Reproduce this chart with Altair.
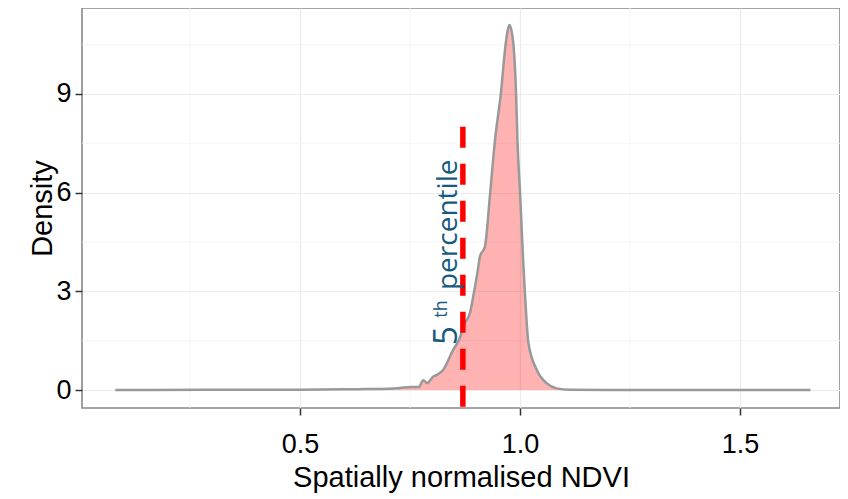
import altair as alt
import pandas as pd

# ---- data ----
ndvi = [0.08, 0.30, 0.50, 0.60, 0.65, 0.70, 0.727, 0.75, 0.77, 0.78, 0.789, 0.802,
        0.811, 0.825, 0.848, 0.861, 0.875, 0.886, 0.895, 0.904, 0.909, 0.920,
        0.932, 0.943, 0.956, 0.967, 0.972, 0.976, 0.980, 0.985, 0.991, 0.994,
        1.000, 1.0075, 1.011, 1.019, 1.038, 1.061, 1.083, 1.114, 1.20, 1.66]
density = [0.0, 0.005, 0.01, 0.02, 0.03, 0.04, 0.06, 0.09, 0.09, 0.30, 0.21, 0.40,
           0.46, 0.61, 1.22, 1.52, 2.04, 2.34, 2.95, 3.65, 4.07, 4.35,
           5.99, 7.60, 8.97, 10.49, 10.95, 11.10, 10.95, 10.49, 8.97, 7.60,
           5.98, 3.80, 2.95, 1.43, 0.61, 0.20, 0.05, 0.01, 0.0, 0.0]

X_TICKS = [0.5, 1.0, 1.5]
Y_TICKS = [0, 3, 6, 9]
X_MINOR = [0.25, 0.75, 1.25]
Y_MINOR = [1.5, 4.5, 7.5, 10.5]

P5 = 0.870          # 5th percentile
P5_TOP = 8.0

X_DOMAIN = [0.0045, 1.727]
Y_DOMAIN = [-0.547, 11.614]
W, H = 758, 400

df = pd.DataFrame({"ndvi": ndvi, "density": density})

xs = alt.Scale(domain=X_DOMAIN, nice=False, zero=False)
ys = alt.Scale(domain=Y_DOMAIN, nice=False, zero=False)
x_axis = alt.Axis(values=X_TICKS, format=".1f", title="Spatially normalised NDVI",
                  labelPadding=16, titlePadding=6)
y_axis = alt.Axis(values=Y_TICKS, format="d", title="Density",
                  labelPadding=4, titlePadding=-2)


def X():
    return alt.X("ndvi:Q", scale=xs, axis=x_axis)


def Y():
    return alt.Y("density:Q", scale=ys, axis=y_axis)


minor_x = alt.Chart(pd.DataFrame({"ndvi": X_MINOR})).mark_rule(
    color="#f3f3f3", strokeWidth=0.8).encode(x=X())
minor_y = alt.Chart(pd.DataFrame({"density": Y_MINOR})).mark_rule(
    color="#f3f3f3", strokeWidth=0.8).encode(y=Y())

area = alt.Chart(df).mark_area(color="red", opacity=0.3, interpolate="monotone").encode(
    x=X(), y=Y())
line = alt.Chart(df).mark_line(color="#999999", strokeWidth=2.5, interpolate="monotone").encode(
    x=X(), y=Y())

rule = alt.Chart(pd.DataFrame({"ndvi": [P5], "density": [P5_TOP]})).mark_rule(
    color="red", strokeWidth=5.5, strokeDash=[21, 16]).encode(
    x=X(), y=Y(), y2=alt.value(H + 3))

TXT_COLOR = "#175a80"
ann = pd.DataFrame({
    "ndvi": [0.857, 0.834, 0.857],
    "density": [1.37, 2.2, 3.04],
    "label": ["5", "th", "percentile"],
    "size": [33, 18, 28],
})
texts = alt.Chart(ann).mark_text(
    angle=270, align="left", baseline="alphabetic", font="Open Sans", color=TXT_COLOR
).encode(
    x=X(), y=Y(),
    text="label:N",
    size=alt.Size("size:Q", scale=None, legend=None),
)

chart = alt.layer(minor_x, minor_y, area, line, rule, texts).properties(
    width=W, height=H,
    autosize=alt.AutoSizeParams(type="none"),
    padding={"left": 74, "top": 0, "right": 0, "bottom": 86},
).configure_view(
    stroke="#888888", strokeWidth=1.6
).configure_axis(
    labelFont="Liberation Sans", labelFontSize=27, labelColor="black",
    titleFont="Liberation Sans", titleFontSize=29, titleFontWeight="normal", titleColor="black",
    tickColor="#333333", tickWidth=1.5, tickSize=7,
    domain=False, grid=True, gridColor="#ebebeb", gridWidth=1.2,
)

chart.save("out.html", embed_options={"renderer": "svg", "actions": False})
